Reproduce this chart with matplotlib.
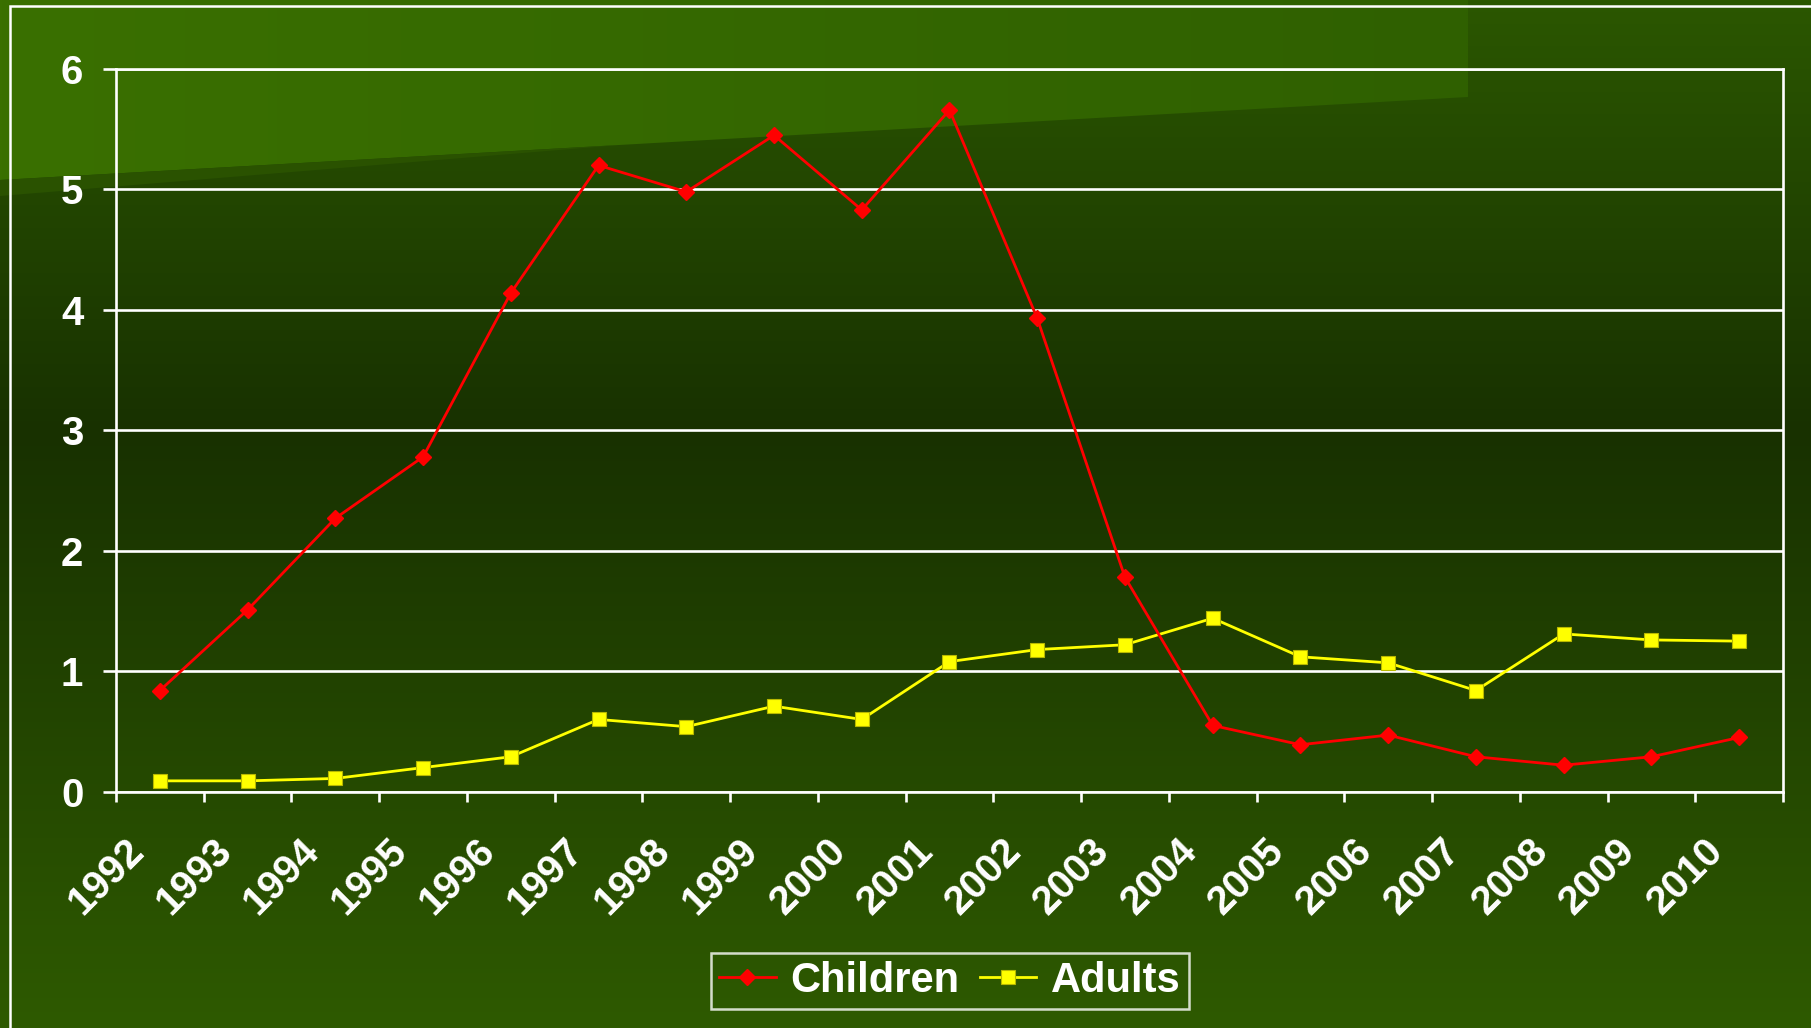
import numpy as np
import matplotlib
matplotlib.use('Agg')
import matplotlib.pyplot as plt
from matplotlib.patches import Polygon
import matplotlib.transforms as mtransforms

# ---------------- data ----------------
years = ['1992', '1993', '1994', '1995', '1996', '1997', '1998', '1999', '2000',
         '2001', '2002', '2003', '2004', '2005', '2006', '2007', '2008', '2009', '2010']
children = [0.84, 1.51, 2.27, 2.78, 4.14, 5.20, 4.98, 5.45, 4.83,
            5.66, 3.93, 1.78, 0.55, 0.39, 0.47, 0.29, 0.22, 0.29, 0.45]
adults = [0.09, 0.09, 0.11, 0.20, 0.29, 0.60, 0.54, 0.71, 0.60,
          1.08, 1.18, 1.22, 1.44, 1.12, 1.07, 0.84, 1.31, 1.26, 1.25]
yticks = [0, 1, 2, 3, 4, 5, 6]

# ---------------- figure ----------------
W, H = 1811, 1028
plt.rcParams['font.family'] = ['Liberation Sans', 'DejaVu Sans']
plt.rcParams['font.weight'] = 'bold'
fig = plt.figure(figsize=(W / 100, H / 100), dpi=100)


def hex2rgb(h):
    h = h.lstrip('#')
    return [int(h[i:i + 2], 16) / 255 for i in (0, 2, 4)]


# background
bg = fig.add_axes([0, 0, 1, 1], zorder=0)
bg.set_axis_off()
ys = np.linspace(0, 1, 500)
stops = [0.0, 0.42, 1.0]
cols = [hex2rgb('#2b5700'), hex2rgb('#183100'), hex2rgb('#2e5a01')]
grad = np.stack([np.interp(ys, stops, [c[i] for c in cols]) for i in range(3)], -1)[:, None, :]
bg.imshow(grad, extent=[0, W, H, 0], aspect='auto', interpolation='bilinear')

# lighter top-left panel with horizontal gradient
xs = np.linspace(0, 1, 300)
c1, c2 = hex2rgb('#3a7000'), hex2rgb('#2f6000')
hgrad = np.stack([np.interp(xs, [0, 1], [c1[i], c2[i]]) for i in range(3)], -1)[None, :, :]
poly = Polygon([(0, 0), (1468, 0), (1468, 97), (0, 180)], closed=True,
               facecolor='none', edgecolor='none')
bg.add_patch(poly)
im = bg.imshow(hgrad, extent=[0, 1468, 200, 0], aspect='auto', interpolation='bilinear')
im.set_clip_path(poly)
bg.add_patch(Polygon([(0, 180), (620, 145), (0, 196)], closed=True,
                     facecolor='#2a5200', edgecolor='none'))
# outer border
bg.plot([10, 10, W], [H, 6, 6], color='white', lw=1.8, solid_joinstyle='miter')
bg.set_xlim(0, W)
bg.set_ylim(H, 0)

# ---------------- main axes ----------------
left, right, top, bottom = 116, 1783, 69, 791.7
ax = fig.add_axes([left / W, 1 - bottom / H, (right - left) / W, (bottom - top) / H], zorder=1)
ax.set_facecolor('none')

x = np.arange(len(years))
ax.plot(x, children, color='#ff0000', lw=2.0, marker='D', ms=8, mec='#ff0000',
        label='Children', zorder=4)
ax.plot(x, adults, color='#ffff00', lw=2.0, marker='s', ms=9.5, mec='#b8b800', mew=0.8,
        label='Adults', zorder=3)

ax.set_xlim(-0.5, len(years) - 0.5)
ax.set_ylim(0, 6)
ax.set_yticks(yticks)
ax.set_yticklabels([str(v) for v in yticks])
ax.yaxis.grid(True, color='white', lw=1.9)
ax.set_axisbelow(True)

ax.set_xticks(np.arange(-0.5, len(years), 1.0))
ax.set_xticklabels([])
ax.set_xticks(x, minor=True)
ax.set_xticklabels(years, minor=True, rotation=45, rotation_mode='anchor',
                   ha='right', va='center', fontsize=29, fontweight='bold', color='white')
ax.tick_params(axis='x', which='major', length=7.5, width=1.9, color='white', direction='out')
ax.tick_params(axis='x', which='minor', length=0, pad=40)
ax.tick_params(axis='y', which='major', length=9.5, width=1.9, color='white', direction='out',
               pad=14, labelsize=29, labelcolor='white')
for lab in ax.get_yticklabels():
    lab.set_fontweight('bold')
shift = mtransforms.ScaledTranslation(-22 / 100, 2 / 100, fig.dpi_scale_trans)
for lab in ax.xaxis.get_minorticklabels():
    lab.set_transform(lab.get_transform() + shift)

for sp in ax.spines.values():
    sp.set_color('white')
    sp.set_linewidth(1.9)

leg = fig.legend(loc='center', bbox_to_anchor=(950 / W, 1 - 981 / H), ncol=2,
                 frameon=True, fancybox=False, facecolor='none', edgecolor='white',
                 prop={'size': 30, 'weight': 'bold'}, handlelength=1.35, handletextpad=0.35,
                 columnspacing=0.5, borderpad=0.2, borderaxespad=0)
leg.get_frame().set_linewidth(1.8)
for t in leg.get_texts():
    t.set_color('white')

fig.savefig('out.png', dpi=100)
